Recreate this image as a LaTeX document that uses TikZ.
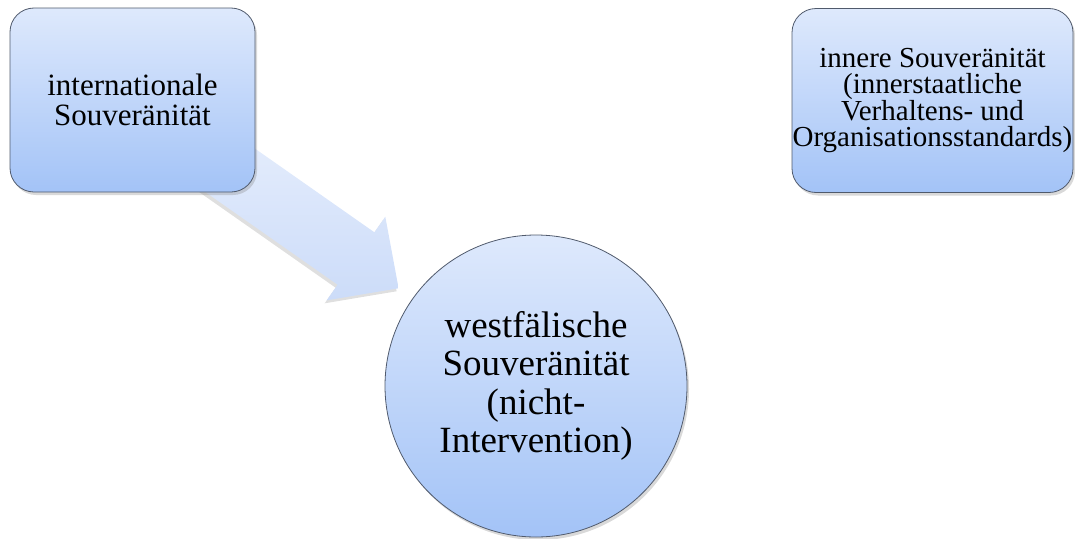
\documentclass[tikz,border=0pt]{standalone}
\usepackage{fontspec}
\setmainfont{Liberation Serif}
\usetikzlibrary{shadows}
\definecolor{boxtop}{RGB}{222,233,252}
\definecolor{boxbot}{RGB}{163,195,247}
\definecolor{arrtop}{RGB}{229,237,252}
\definecolor{arrbot}{RGB}{204,220,249}
\definecolor{edge}{RGB}{80,90,108}
\tikzset{
  shade box/.style={top color=boxtop, bottom color=boxbot, draw=edge, line width=0.8pt,
    drop shadow={opacity=0.3, shadow xshift=2pt, shadow yshift=-3pt}},
  squarebox/.style={shade box, rectangle, rounded corners=24pt, inner sep=0pt, align=center},
  roundnode/.style={shade box, circle, inner sep=0pt, align=center, minimum size=302pt},
  blockarrow/.style={top color=arrtop, bottom color=arrbot, draw=none,
    drop shadow={opacity=0.25, shadow xshift=-2pt, shadow yshift=-3pt}},
}
\begin{document}
\begin{tikzpicture}[x=1pt, y=-1pt]
\useasboundingbox (0,0) rectangle (1075,538);
% arrow (behind the box)
\coordinate (t1) at (227.0,129.0);
\coordinate (s1) at (374.4,232.3);
\coordinate (b1) at (385.3,216.7);
\coordinate (tip) at (398.6,288.3);
\coordinate (b2) at (326.7,300.3);
\coordinate (s2) at (337.6,284.7);
\coordinate (t2) at (190.2,181.4);
\path[blockarrow] (t1) -- (s1) -- (b1) -- (tip) -- (b2) -- (s2) -- (t2) -- cycle;
\node[squarebox, minimum width=245pt, minimum height=184pt, font={\fontsize{31}{30}\selectfont}] (a) at (132.5,100)
  {internationale\\Souveränität};
\node[squarebox, minimum width=281pt, minimum height=184pt, font={\fontsize{29}{26.5}\selectfont}] (b) at (932.5,100.5)
  {innere Souveränität\\(innerstaatliche\\Verhaltens- und\\Organisationsstandards)};
\node[roundnode, font={\fontsize{37}{38.5}\selectfont}] (c) at (536,386)
  {westfälische\\Souveränität\\(nicht-\\Intervention)};
\end{tikzpicture}
\end{document}
